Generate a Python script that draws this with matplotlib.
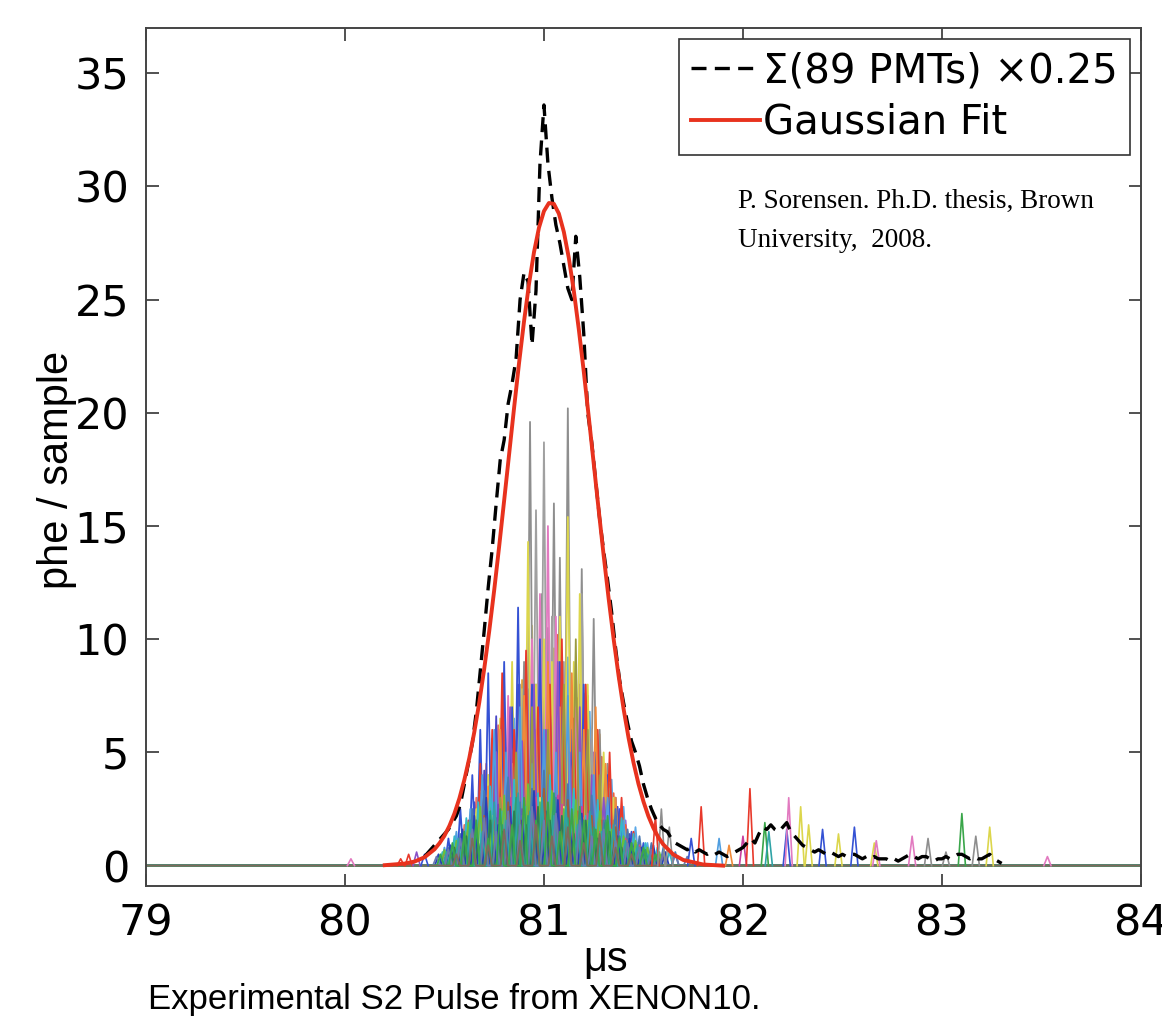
import numpy as np
import matplotlib
matplotlib.use("Agg")
import matplotlib.pyplot as plt

# ---- data ----
# sum of 89 PMTs (x0.25), one value every 0.02 us starting at 80.40 us
sum_start = 80.40
sum_step = 0.02
sum_vals = [
    0.4, 0.6, 0.8, 1.0, 1.2, 1.4, 1.6, 1.9, 2.2, 2.7,
    3.6, 4.5, 5.4, 6.8, 8.6, 10.4, 12.3, 14.0, 16.0, 17.9,
    18.8, 20.4, 21.3, 22.4, 25.0, 26.2, 25.8, 23.0, 25.4, 31.0,
    33.6, 31.0, 29.5, 28.3, 27.5, 26.5, 25.5, 25.0, 27.8, 26.0,
    23.5, 20.0, 18.7, 17.0, 15.3, 13.9, 12.6, 11.2, 9.6, 8.2,
    7.2, 6.3, 5.5, 5.0, 4.4, 3.6, 3.0, 2.5, 2.1, 1.8,
    1.6, 1.5, 1.2, 1.0,
    0.9, 0.8, 0.7, 0.8, 0.6, 0.7, 0.6, 0.5, 0.6, 0.5,
    0.6, 0.5, 0.4, 0.5, 0.6, 0.7, 0.8, 1.0, 1.2, 1.0,
    1.4, 1.7, 1.6, 1.8, 1.6, 1.5, 1.7, 1.9, 1.5, 1.3,
    1.1, 0.9, 0.8, 0.7, 0.6, 0.7, 0.6, 0.5, 0.6, 0.5,
    0.4, 0.5, 0.4, 0.5, 0.5, 0.4, 0.3, 0.4, 0.3, 0.4,
    0.3, 0.3, 0.3, 0.2, 0.3, 0.2, 0.3, 0.4, 0.5, 0.4,
    0.3, 0.4, 0.4, 0.3, 0.2, 0.3, 0.3, 0.4, 0.3, 0.4,
    0.5, 0.5, 0.4, 0.3, 0.4, 0.3, 0.3, 0.4, 0.5, 0.3,
    0.2, 0.1,
]

# gaussian fit curve
fit_t = [80.2, 80.3, 80.35, 80.4, 80.45, 80.475, 80.5, 80.525, 80.55, 80.575,
         80.6, 80.625, 80.65, 80.675, 80.7, 80.725, 80.75, 80.775, 80.8, 80.825,
         80.85, 80.875, 80.9, 80.925, 80.95, 80.975, 81.0, 81.025, 81.05, 81.075,
         81.1, 81.125, 81.15, 81.175, 81.2, 81.225, 81.25, 81.275, 81.3, 81.325,
         81.35, 81.375, 81.4, 81.425, 81.45, 81.475, 81.5, 81.525, 81.55, 81.575,
         81.6, 81.65, 81.7, 81.8, 81.9]
fit_y = [0.02, 0.09, 0.18, 0.37, 0.72, 0.99, 1.32, 1.76, 2.30, 2.97,
         3.79, 4.76, 5.90, 7.21, 8.70, 10.36, 12.17, 14.11, 16.13, 18.18,
         20.23, 22.21, 24.05, 25.70, 27.10, 28.18, 28.91, 29.27, 29.23, 28.80,
         27.99, 26.84, 25.39, 23.70, 21.83, 19.83, 17.77, 15.71, 13.70, 11.80,
         10.02, 8.39, 6.93, 5.65, 4.55, 3.61, 2.83, 2.18, 1.66, 1.25,
         0.93, 0.49, 0.25, 0.05, 0.0]

palette = {
    "gray": "#8e8e8e", "gray2": "#a0a0a0", "yellow": "#dcd64c", "pink": "#e27ac0",
    "blue": "#3552d4", "red": "#e8392b", "orange": "#f08a3a", "purple": "#8a52c8",
    "ltblue": "#4f9ee0", "olive": "#9a9a42", "green": "#3aa64a", "teal": "#2fa3a6",
    "dkgreen": "#2e7d52", "brown": "#a0603a", "magenta": "#c8409e", "navy": "#2840b8",
    "red2": "#d8503a", "yellow2": "#e6e060", "orange2": "#e87a2a", "purple2": "#7a48b8",
    "base": "#7e6a5c", "cyan": "#35b8c8", "lime": "#6cbf3a", "steel": "#4a78b0",
    "salmon": "#f07060", "violet": "#a060d8", "sky": "#5aa8e8", "amber": "#e8a030",
    "rose": "#e04880", "seagreen": "#30a070", "grayblue": "#6a7ab0",
    "coral": "#f0603a", "indigo": "#4a48c8", "khaki": "#d8c860",
}

# individual PMT traces: pulse times (us) and heights (phe/sample)
pmt_colors = ["salmon", "violet", "sky", "amber", "coral", "indigo", "khaki",
              "gray", "gray2", "yellow", "pink", "blue", "red", "orange", "purple",
              "ltblue", "olive", "yellow2", "red2", "orange2", "purple2", "magenta",
              "cyan", "steel", "rose", "lime", "navy", "brown", "seagreen",
              "dkgreen", "teal", "grayblue", "green", "base"]
pmt_times = [
    [80.55, 80.60, 80.66, 80.71, 80.77, 80.83, 80.88, 80.94, 80.99, 81.05, 81.10,
     81.16, 81.21, 81.27, 81.32, 81.38, 81.44],
    [80.58, 80.64, 80.69, 80.75, 80.80, 80.86, 80.92, 80.97, 81.03, 81.08, 81.14,
     81.19, 81.25, 81.30, 81.36, 81.41, 81.47],
    [80.57, 80.63, 80.68, 80.74, 80.79, 80.85, 80.90, 80.96, 81.01, 81.07, 81.12,
     81.18, 81.23, 81.29, 81.34, 81.40, 81.46, 81.52],
    [80.61, 80.67, 80.73, 80.78, 80.84, 80.89, 80.95, 81.00, 81.06, 81.11, 81.17,
     81.22, 81.28, 81.33, 81.39],
    [80.63, 80.69, 80.74, 80.80, 80.85, 80.91, 80.96, 81.02, 81.07, 81.13, 81.18,
     81.24, 81.29, 81.35, 81.41],
    [80.59, 80.65, 80.70, 80.76, 80.81, 80.87, 80.93, 80.98, 81.04, 81.09, 81.15,
     81.20, 81.26, 81.31, 81.37, 81.43],
    [80.67, 80.72, 80.78, 80.83, 80.89, 80.94, 81.00, 81.05, 81.11, 81.16, 81.22,
     81.27, 81.33, 81.39],
    [80.62, 80.66, 80.70, 80.74, 80.78, 80.82, 80.86, 80.90, 80.93, 80.96, 80.99,
     81.02, 81.05, 81.08, 81.12, 81.16, 81.19, 81.22, 81.25, 81.28, 81.32, 81.36, 81.40, 81.45],
    [80.72, 80.80, 80.88, 80.96, 81.00, 81.04, 81.10, 81.14, 81.19, 81.24, 81.30, 81.38],
    [80.60, 80.66, 80.72, 80.78, 80.84, 80.88, 80.92, 80.96, 81.00, 81.04, 81.08,
     81.12, 81.15, 81.18, 81.22, 81.26, 81.30, 81.35, 81.40, 81.46],
    [80.64, 80.70, 80.76, 80.82, 80.88, 80.94, 80.98, 81.02, 81.06, 81.10, 81.16,
     81.22, 81.28, 81.34],
    [80.52, 80.58, 80.64, 80.68, 80.72, 80.76, 80.80, 80.84, 80.87, 80.90, 80.94,
     80.98, 81.03, 81.08, 81.14, 81.20, 81.26, 81.32, 81.38, 81.44, 81.50],
    [80.56, 80.62, 80.68, 80.74, 80.79, 80.85, 80.91, 80.97, 81.03, 81.09, 81.15,
     81.21, 81.27, 81.33, 81.39, 81.45],
    [80.66, 80.72, 80.78, 80.84, 80.90, 80.96, 81.02, 81.08, 81.14, 81.20, 81.26,
     81.31, 81.36, 81.42],
    [80.60, 80.70, 80.76, 80.83, 80.89, 80.95, 81.01, 81.07, 81.13, 81.18, 81.24,
     81.30, 81.38],
    [80.50, 80.56, 80.63, 80.69, 80.75, 80.81, 80.88, 80.94, 81.00, 81.06, 81.12,
     81.18, 81.25, 81.32, 81.40, 81.48, 81.55],
    [80.78, 80.86, 80.94, 81.02, 81.10, 81.16, 81.22, 81.28, 81.35],
    [80.62, 80.68, 80.74, 80.80, 80.86, 80.92, 80.98, 81.04, 81.10, 81.16, 81.22,
     81.28, 81.34, 81.40],
    [80.57, 80.63, 80.69, 80.75, 80.81, 80.87, 80.93, 80.99, 81.05, 81.11, 81.17,
     81.23, 81.29, 81.35, 81.41, 81.47],
    [80.54, 80.60, 80.66, 80.72, 80.78, 80.84, 80.90, 80.96, 81.02, 81.08, 81.14,
     81.20, 81.26, 81.32, 81.38, 81.44],
    [80.59, 80.65, 80.71, 80.77, 80.83, 80.89, 80.95, 81.01, 81.07, 81.13, 81.19,
     81.25, 81.31, 81.37, 81.43, 81.49],
    [80.53, 80.59, 80.65, 80.71, 80.77, 80.83, 80.89, 80.95, 81.01, 81.07, 81.13,
     81.19, 81.25, 81.31, 81.37, 81.43, 81.49],
    [80.49, 80.55, 80.61, 80.67, 80.73, 80.79, 80.85, 80.91, 80.97, 81.03, 81.09,
     81.15, 81.21, 81.27, 81.33, 81.39, 81.45, 81.51, 81.57, 81.63],
    [80.52, 80.58, 80.64, 80.70, 80.76, 80.82, 80.88, 80.94, 81.00, 81.06, 81.12,
     81.18, 81.24, 81.30, 81.36, 81.42, 81.48, 81.54, 81.60, 81.66],
    [80.50, 80.57, 80.63, 80.70, 80.76, 80.83, 80.89, 80.96, 81.02, 81.09, 81.15,
     81.22, 81.28, 81.35, 81.41, 81.48, 81.54, 81.60],
    [80.50, 80.56, 80.62, 80.68, 80.74, 80.80, 80.86, 80.92, 80.98, 81.04, 81.10,
     81.16, 81.22, 81.28, 81.34, 81.40, 81.46, 81.52, 81.58],
    [80.47, 80.53, 80.59, 80.65, 80.71, 80.77, 80.83, 80.89, 80.95, 81.01, 81.07,
     81.13, 81.19, 81.25, 81.31, 81.37, 81.43, 81.49, 81.55, 81.61],
    [80.58, 80.64, 80.70, 80.76, 80.82, 80.88, 80.94, 81.00, 81.06, 81.12, 81.18,
     81.24, 81.30, 81.36, 81.42, 81.48, 81.54],
    [80.53, 80.60, 80.66, 80.73, 80.79, 80.86, 80.92, 80.99, 81.05, 81.12, 81.18,
     81.25, 81.31, 81.38, 81.44, 81.51, 81.57],
    [80.55, 80.61, 80.67, 80.73, 80.79, 80.85, 80.91, 80.97, 81.03, 81.09, 81.15,
     81.21, 81.27, 81.33, 81.39, 81.45],
    [80.51, 80.57, 80.63, 80.69, 80.75, 80.81, 80.87, 80.93, 80.99, 81.05, 81.11,
     81.17, 81.23, 81.29, 81.35, 81.41, 81.47, 81.53],
    [80.46, 80.52, 80.58, 80.64, 80.70, 80.76, 80.82, 80.88, 80.94, 81.00, 81.06,
     81.12, 81.18, 81.24, 81.30, 81.36, 81.42, 81.48, 81.54, 81.60, 81.66, 81.72],
    [80.48, 80.54, 80.60, 80.66, 80.72, 80.78, 80.84, 80.90, 80.96, 81.02, 81.08,
     81.14, 81.20, 81.26, 81.32, 81.38, 81.44, 81.50, 81.56],
    [80.56, 80.64, 80.72, 80.80, 80.88, 80.96, 81.04, 81.12, 81.20, 81.28, 81.36, 81.44],
]
pmt_heights = [
    [1.0, 1.8, 3.0, 4.5, 6.2, 5.0, 7.2, 6.0, 8.0, 6.6, 7.0, 5.4, 6.0, 4.4, 3.5, 2.4, 1.4],
    [1.2, 2.2, 3.6, 5.0, 6.8, 5.5, 7.8, 6.2, 7.0, 8.4, 6.0, 6.8, 5.0, 4.2, 3.0, 2.0, 1.0],
    [1.0, 2.0, 3.2, 5.6, 4.4, 6.5, 8.8, 5.8, 7.4, 6.2, 9.2, 5.6, 6.8, 4.8, 3.8, 2.6, 1.7, 1.0],
    [1.6, 3.0, 4.4, 6.0, 5.0, 8.2, 6.4, 7.6, 9.8, 6.8, 7.4, 5.2, 5.8, 3.6, 2.2],
    [2.0, 3.8, 5.6, 7.4, 6.0, 9.0, 7.2, 8.6, 10.2, 7.0, 8.0, 5.6, 4.8, 3.2, 1.8],
    [1.4, 2.8, 4.2, 6.6, 5.2, 8.0, 6.4, 9.4, 7.2, 8.8, 6.2, 7.6, 5.0, 4.0, 2.6, 1.4],
    [2.4, 4.0, 6.0, 5.2, 7.8, 10.6, 8.2, 9.6, 7.0, 8.4, 6.0, 5.2, 3.4, 2.0],
    [1.5, 2.0, 3.2, 2.5, 4.0, 6.5, 5.0, 9.0, 19.6, 8.0, 12.0,
     10.5, 16.0, 13.6, 20.2, 9.0, 13.1, 7.5, 10.9, 6.0, 4.5, 3.0, 2.0, 1.0],
    [2.5, 5.0, 8.0, 15.7, 18.7, 11.0, 9.0, 7.0, 12.0, 6.0, 4.0, 2.0],
    [1.0, 2.5, 4.0, 6.5, 9.0, 7.0, 14.3, 8.0, 10.0, 9.0, 11.0,
     15.4, 9.0, 12.0, 8.0, 6.0, 5.0, 3.0, 2.0, 1.0],
    [1.5, 3.0, 5.0, 7.5, 6.0, 10.0, 12.0, 15.0, 11.0, 8.0, 7.0, 5.0, 3.5, 2.0],
    [1.2, 2.5, 4.0, 6.0, 8.5, 5.0, 9.0, 7.0, 11.4, 6.0, 8.0,
     10.0, 7.0, 9.0, 6.0, 8.0, 5.0, 4.0, 2.5, 1.5, 1.0],
    [1.0, 2.0, 4.5, 6.0, 8.5, 6.0, 9.5, 7.0, 8.0, 10.0, 6.5, 8.0, 6.0, 5.0, 3.0, 1.5],
    [2.0, 3.5, 6.0, 4.5, 7.5, 6.0, 9.0, 7.0, 8.5, 6.0, 7.0, 4.5, 3.0, 1.5],
    [1.5, 3.0, 5.0, 7.0, 5.5, 8.0, 6.0, 9.0, 5.0, 7.0, 4.0, 3.0, 1.5],
    [0.8, 1.5, 2.5, 4.0, 6.0, 5.0, 7.0, 4.5, 6.0, 5.0, 7.5, 5.0, 4.0, 3.0, 2.0, 1.0, 0.6],
    [3.0, 5.0, 7.0, 6.0, 8.0, 10.0, 6.0, 4.0, 2.0],
    [0.8, 1.5, 2.2, 1.5, 2.7, 2.0, 3.0, 2.2, 2.6, 1.7, 2.0, 1.3, 1.0, 0.6],
    [0.7, 1.6, 1.1, 2.4, 1.7, 2.9, 2.1, 2.5, 3.0, 1.9, 2.4, 1.6, 2.0, 1.2, 0.9, 0.6],
    [0.6, 1.1, 1.7, 2.3, 1.5, 2.6, 1.9, 2.8, 2.1, 2.4, 1.6, 2.1, 1.3, 1.6, 1.0, 0.6],
    [0.9, 1.4, 2.0, 2.7, 1.9, 2.5, 3.1, 2.2, 2.7, 1.8, 2.3, 1.6, 1.3, 1.5, 0.9, 0.7],
    [0.6, 1.0, 1.8, 2.5, 1.6, 3.0, 2.2, 2.8, 1.9, 3.1, 2.0, 2.6, 1.5, 1.8, 1.1, 0.8, 0.5],
    [0.6, 1.3, 2.1, 2.8, 3.5, 2.4, 3.8, 2.6, 3.2, 4.0, 2.7, 3.4, 2.2, 2.9, 1.8, 2.1,
     1.4, 1.0, 0.8, 0.6],
    [0.8, 1.4, 2.5, 3.3, 2.1, 3.9, 2.8, 3.4, 4.2, 3.0, 3.6, 2.4, 3.1, 2.0, 2.5, 1.6,
     1.3, 1.0, 0.8, 0.6],
    [0.6, 1.0, 1.6, 2.2, 1.5, 2.6, 2.0, 3.0, 2.4, 2.7, 1.9, 2.3, 1.5, 1.8, 1.2, 0.9, 0.7, 0.5],
    [0.7, 1.1, 1.9, 2.6, 2.0, 3.1, 2.4, 3.6, 2.8, 3.3, 2.5, 2.9, 2.0, 2.4, 1.6, 1.3, 1.1, 0.8, 0.6],
    [0.5, 0.9, 1.6, 2.2, 3.0, 1.8, 2.6, 2.0, 3.3, 2.4, 2.9, 1.7, 2.3, 1.4, 1.9, 1.3,
     1.2, 0.8, 0.9, 0.6],
    [0.7, 1.5, 2.2, 1.4, 2.8, 2.0, 2.5, 3.4, 2.2, 2.9, 1.8, 2.2, 1.4, 1.7, 1.0, 0.8, 0.5],
    [0.5, 1.1, 1.7, 2.4, 1.8, 3.0, 2.2, 2.8, 3.2, 2.1, 2.6, 1.7, 2.0, 1.3, 1.0, 0.7, 0.5],
    [0.8, 1.3, 1.0, 2.0, 1.5, 2.4, 1.8, 2.6, 2.0, 2.2, 1.4, 2.0, 1.2, 1.5, 0.8, 0.6],
    [0.6, 1.2, 2.0, 1.5, 2.8, 2.0, 3.2, 2.4, 3.0, 2.2, 2.6, 1.8, 2.4, 1.5, 1.8, 1.1, 0.9, 0.5],
    [0.4, 0.7, 1.2, 1.6, 2.1, 1.5, 2.4, 1.8, 2.6, 2.0, 2.3, 1.6, 2.0, 1.3, 1.6, 1.1,
     1.0, 0.8, 0.7, 0.6, 0.5, 0.4],
    [0.5, 1.0, 1.5, 2.0, 1.2, 2.5, 1.8, 3.0, 2.0, 2.8, 1.5, 2.5, 2.0, 1.6, 2.2, 1.2, 1.0, 0.8, 0.5],
    [0.5, 1.2, 0.9, 1.6, 1.1, 1.8, 1.3, 1.7, 1.0, 1.4, 0.8, 0.5],
]

# stray / late single-photon pulses
stray_t = [80.03, 80.28, 80.32, 80.36, 80.40, 81.56, 81.59, 81.63, 81.74, 81.79,
           81.88, 81.93, 82.00, 82.035, 82.11, 82.13, 82.22, 82.23, 82.29, 82.33,
           82.40, 82.48, 82.56, 82.66, 82.67, 82.85, 82.93, 83.02, 83.10, 83.17,
           83.24, 83.53]
stray_h = [0.3, 0.3, 0.5, 0.6, 0.5, 2.2, 2.5, 1.7, 1.2, 2.6,
           1.2, 0.9, 1.3, 3.4, 1.9, 1.5, 1.6, 3.0, 2.6, 1.8,
           1.6, 1.4, 1.7, 1.0, 1.1, 1.3, 1.2, 0.6, 2.3, 1.3,
           1.7, 0.4]
stray_c = ["pink", "red", "red", "purple", "blue", "red", "gray", "gray", "blue", "red",
           "ltblue", "orange", "magenta", "red", "green", "teal", "blue", "pink", "yellow", "yellow",
           "blue", "yellow", "blue", "yellow", "pink", "pink", "gray", "gray", "green", "gray",
           "yellow", "pink"]

half_w = 0.018


def pulse_line(times, heights):
    xs, ys = [79.0], [0.0]
    for t, h in zip(times, heights):
        xs += [t - half_w, t, t + half_w]
        ys += [0.0, h, 0.0]
    xs.append(84.0)
    ys.append(0.0)
    return xs, ys


fig = plt.figure(figsize=(11.62, 10.33), dpi=100)
ax = fig.add_axes([0.1256, 0.1423, 0.8563, 0.8306])

for c, ts, hs in zip(pmt_colors, pmt_times, pmt_heights):
    xs, ys = pulse_line(ts, hs)
    ax.plot(xs, ys, color=palette[c], lw=1.3)

for t, h, c in zip(stray_t, stray_h, stray_c):
    ax.plot([t - half_w, t, t + half_w], [0, h, 0], color=palette[c], lw=1.2)

sum_t = sum_start + sum_step * np.arange(len(sum_vals))
ax.plot(sum_t, sum_vals, color="black", lw=2.4, ls=(0, (4.5, 2.5)),
        label="Σ(89 PMTs) ×0.25")
ax.plot(fit_t, fit_y, color="#e8321e", lw=2.8, label="Gaussian Fit")

ax.set_xlim(79, 84)
ax.set_ylim(-0.9, 37)
ax.set_xticks([79, 80, 81, 82, 83, 84])
ax.set_yticks([0, 5, 10, 15, 20, 25, 30, 35])
ax.tick_params(direction="in", length=9, width=1.2, top=True, right=True,
               labelsize=31, pad=12, colors="#333333", labelcolor="black")
for sp in ax.spines.values():
    sp.set_color("#444444")
    sp.set_linewidth(1.4)

sans = ["Liberation Sans", "DejaVu Sans"]
fig.text(0.049, 0.545, "phe / sample", fontsize=30, family=sans, rotation=90,
         ha="center", va="center")
fig.text(0.521, 0.0707, "μs", fontsize=30, family=sans, ha="center", va="center")

leg = ax.legend(loc="upper right", bbox_to_anchor=(1.0, 1.0), borderaxespad=0.28,
                fontsize=29, handlelength=1.7, handletextpad=0.08, borderpad=0.3,
                labelspacing=0.28, fancybox=False, framealpha=1)
leg.get_frame().set_edgecolor("#333333")
leg.get_frame().set_linewidth(1.2)

ax.text(0.595, 0.775, "P. Sorensen. Ph.D. thesis, Brown\nUniversity,  2008.",
        transform=ax.transAxes, family="Liberation Serif", fontsize=19.5,
        va="center", ha="left", linespacing=1.75)

fig.text(0.127, 0.032, "Experimental S2 Pulse from XENON10.", family=sans,
         fontsize=25, ha="left", va="center")

fig.savefig("out.png", dpi=100)
